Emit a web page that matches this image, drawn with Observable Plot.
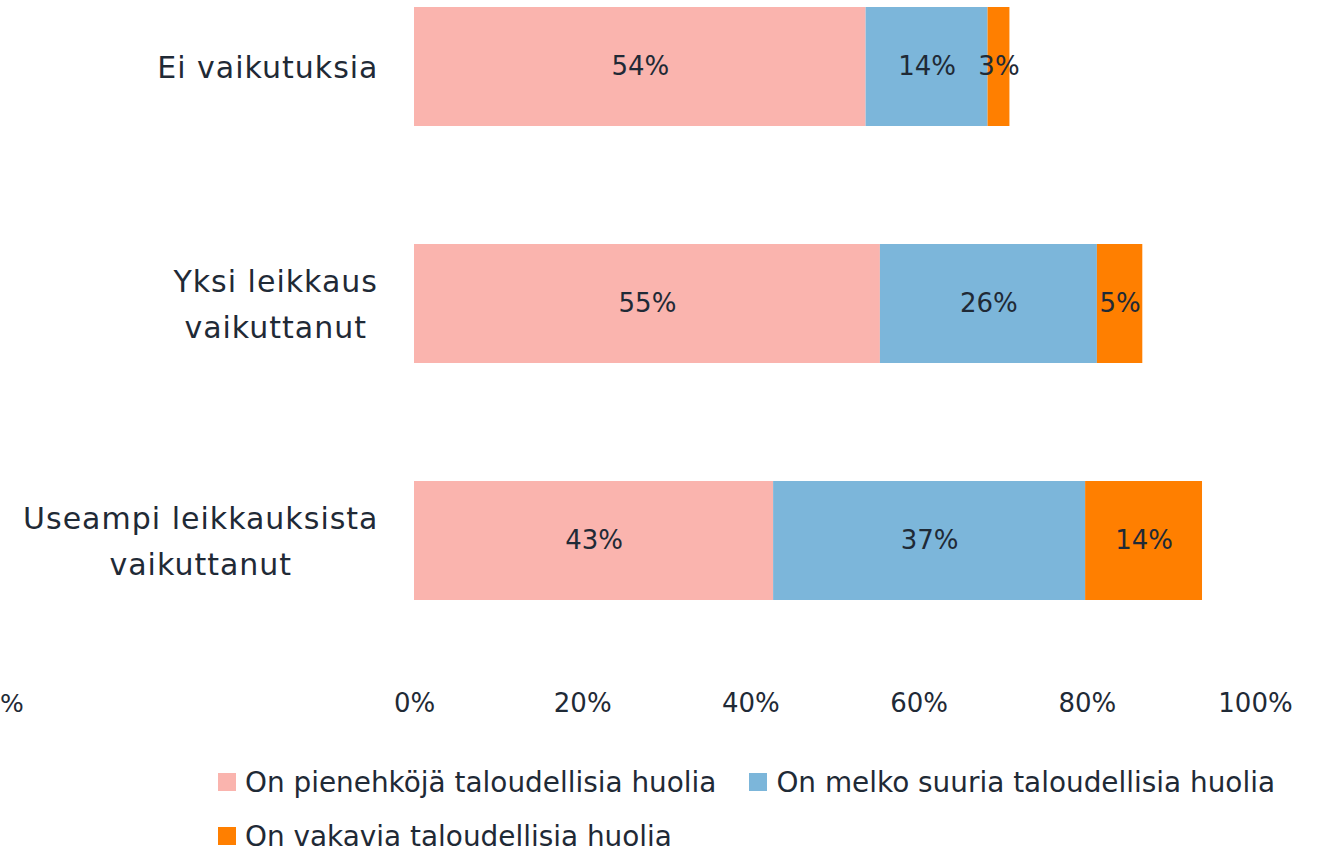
<!DOCTYPE html>
<html>
<head>
<meta charset="utf-8">
<script src="https://cdn.jsdelivr.net/npm/d3@7"></script>
<script src="https://cdn.jsdelivr.net/npm/@observablehq/plot@0.6"></script>
<style>
  html, body { margin: 0; padding: 0; background: #fff; }
  body { width: 1320px; height: 852px; position: relative; overflow: hidden; font-family: "DejaVu Sans", sans-serif; color: #1f2a36; }
  #chart { position: absolute; left: 0; top: 0; }
  #stray { position: absolute; left: 0px; top: 689px; font-size: 25px; }
  #legend { position: absolute; left: 218px; top: 764px; width: 1095px; display: flex; flex-wrap: wrap; row-gap: 18px; column-gap: 33px; font-size: 27.9px; }
  .item { display: flex; align-items: center; height: 36px; }
  .sw { width: 18px; height: 18px; margin-right: 9px; }
</style>
</head>
<body>
<div id="chart"></div>
<div id="stray">%</div>
<div id="legend"></div>
<script>
const categories = ["Ei vaikutuksia", "Yksi leikkaus\nvaikuttanut", "Useampi leikkauksista\nvaikuttanut"];
const series = ["On pienehköjä taloudellisia huolia", "On melko suuria taloudellisia huolia", "On vakavia taloudellisia huolia"];
const colors = ["#FAB4AE", "#7CB6DA", "#FF7F00"];
const pienehkoja = [53.7, 55.4, 42.7];
const melkoSuuria = [14.5, 25.8, 37.1];
const vakavia = [2.6, 5.4, 13.9];
const pienehkojaLabels = ["54%", "55%", "43%"];
const melkoSuuriaLabels = ["14%", "26%", "37%"];
const vakaviaLabels = ["3%", "5%", "14%"];
const xTicks = [0, 20, 40, 60, 80, 100];

const seriesValues = [pienehkoja, melkoSuuria, vakavia];
const seriesLabels = [pienehkojaLabels, melkoSuuriaLabels, vakaviaLabels];
const data = [];
categories.forEach((c, i) => {
  series.forEach((s, j) => {
    data.push({cat: c, series: s, value: seriesValues[j][i], label: seriesLabels[j][i]});
  });
});

const plot = Plot.plot({
  width: 1320,
  height: 735,
  marginLeft: 414,
  marginRight: 65,
  marginTop: 0,
  marginBottom: 55,
  style: {fontFamily: "'DejaVu Sans', sans-serif", color: "#1f2a36", background: "#fff"},
  x: {domain: [0, 100], ticks: xTicks, tickFormat: d => d + "%", label: null},
  y: {domain: categories, range: [0, 607], paddingInner: 0.5, paddingOuter: 0.028, label: null},
  color: {domain: series, range: colors},
  marks: [
    Plot.barX(data, Plot.stackX({x: "value", y: "cat", fill: "series", order: series})),
    Plot.textX(data, Plot.stackX({x: "value", y: "cat", z: "series", text: "label", order: series, fontSize: 26, fill: "#1f2a36"})),
    Plot.axisX({ticks: xTicks, tickFormat: d => d + "%", tickSize: 0, tickPadding: 13, fontSize: 26, label: null}),
    Plot.axisY({tickSize: 0, tickPadding: 36, fontSize: 30, lineHeight: 1.55, dy: -4, label: null})
  ]
});
document.getElementById("chart").appendChild(plot);

// center multi-line category labels like the reference
plot.querySelectorAll("g[aria-label='y-axis tick label'] text").forEach(t => {
  t.style.letterSpacing = "1px";
  const w = t.getBBox().width;
  t.setAttribute("text-anchor", "middle");
  const spans = t.querySelectorAll("tspan");
  if (spans.length) spans.forEach(s => s.setAttribute("x", -w / 2));
  else t.setAttribute("x", -w / 2);
});

const legend = document.getElementById("legend");
series.forEach((s, j) => {
  const item = document.createElement("div");
  item.className = "item";
  const sw = document.createElement("div");
  sw.className = "sw";
  sw.style.background = colors[j];
  const lbl = document.createElement("span");
  lbl.textContent = s;
  item.appendChild(sw);
  item.appendChild(lbl);
  legend.appendChild(item);
});
</script>
</body>
</html>
